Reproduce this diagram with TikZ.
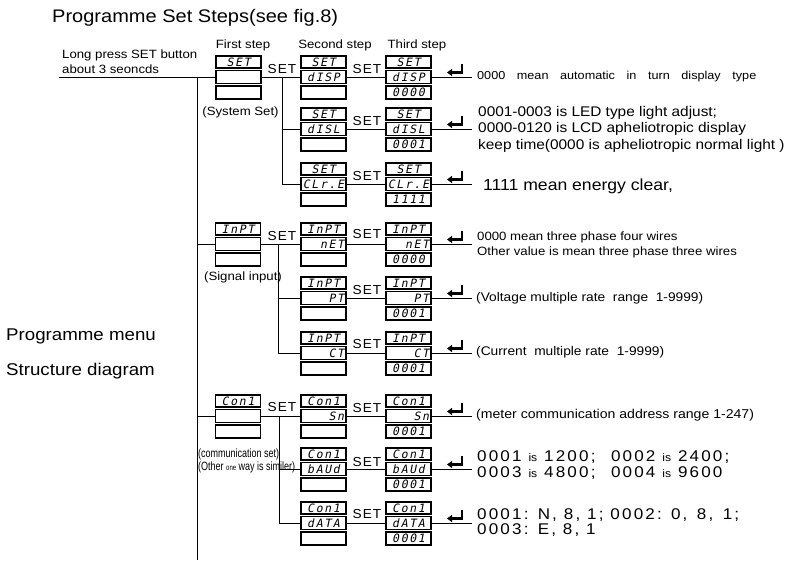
\documentclass[tikz,border=0pt]{standalone}
\usepackage{fontspec}
\setmainfont[FakeStretch=1.1]{Liberation Sans}
\newfontfamily\lcdfont[FakeSlant=0.2,LetterSpace=14]{DejaVu Sans Mono}
\newfontfamily\narrowfont[FakeStretch=0.75]{Liberation Sans}
\newfontfamily\widefont[FakeStretch=1.1,LetterSpace=14]{Liberation Sans}
\newfontfamily\spacedfont[FakeStretch=1.1,WordSpace=3.3]{Liberation Sans}
\newfontfamily\setfont[FakeStretch=1.05,LetterSpace=8]{Liberation Sans}
\usetikzlibrary{arrows.meta}
\newcommand\myfs[1]{\fontsize{#1}{#1}\selectfont}
\newcommand\lcdcol[6]{%
  \node[lcdtop] (#1t) at (#2,#3-15) {\makebox[41pt]{#4}};
  \node[lcdbox] (#1m) at (#2,#3) {\makebox[41pt]{#5}};
  \node[lcdbox] (#1b) at (#2,#3+15.5) {\makebox[41pt]{#6}};}
\newcommand\smallis{{\normalfont\fontsize{11}{11}\selectfont is}}
\begin{document}
\begin{tikzpicture}[x=1pt,y=-1pt,
  wire/.style={line width=0.9pt},
  lcdbox/.style={draw,line width=1.1pt,minimum width=45pt,minimum height=13pt,inner sep=0pt,font=\lcdfont\myfs{11.5}},
  lcdtop/.style={lcdbox,minimum height=12pt},
  setlbl/.style={inner sep=0pt,font=\setfont\myfs{13}},
  plain/.style={inner sep=0pt},
  note/.style={anchor=west,inner sep=0pt,align=left},
  enterarrow/.pic={\draw[line width=2.2pt,-{Triangle[length=5pt,width=7pt]}] (0,-13) -- (0,-4.5) -- (-15,-4.5);}
]
\useasboundingbox (0,0) rectangle (800,562);

% titles
\node[plain,anchor=base west,font=\myfs{18.2}] (title) at (52,23) {Programme Set Steps(see fig.8)};
\node[plain,anchor=base west,font=\myfs{12}] (lp1) at (62,58.5) {Long press SET button};
\node[plain,anchor=base west,font=\myfs{12}] (lp2) at (62,73) {about 3 seoncds};
\node[plain,anchor=base,font=\myfs{12}] (h1) at (243,48) {First step};
\node[plain,anchor=base,font=\myfs{12}] (h2) at (335,48) {Second step};
\node[plain,anchor=base,font=\myfs{12}] (h3) at (417,48) {Third step};
\node[plain,anchor=base west,font=\myfs{17}] (pm1) at (6,340) {Programme menu};
\node[plain,anchor=base west,font=\myfs{17}] (pm2) at (6,375) {Structure diagram};
\node[plain,font=\myfs{12}] (sys) at (240.5,112) {(System Set)};
\node[plain,font=\myfs{12}] (sig) at (243,277) {(Signal input)};
\node[plain,anchor=west,font=\narrowfont\myfs{12}] (com1) at (198,454) {(communication set)};
\node[plain,anchor=west,font=\narrowfont\myfs{12}] (com2) at (198,467) {(Other {\myfs{8}one} way is similer)};

% main line
\coordinate (start) at (59,77);
\coordinate (mtop) at (197,77);
\coordinate (mbot) at (197,560);

% ===== section 1 =====
\lcdcol{A1}{238.5}{77}{SET}{}{}
\lcdcol{A2}{323.5}{77}{SET}{dISP}{}
\lcdcol{A3}{408.5}{77}{SET}{dISP}{0000}
\lcdcol{B2}{323.5}{129}{SET}{dISL}{}
\lcdcol{B3}{408.5}{129}{SET}{dISL}{0001}
\lcdcol{C2}{323.5}{184}{SET}{CLr.E}{}
\lcdcol{C3}{408.5}{184}{SET}{CLr.E}{1111}
\node[setlbl] (sA1) at (282,69) {SET};
\node[setlbl] (sA2) at (367,69) {SET};
\node[setlbl] (sB2) at (367,121) {SET};
\node[setlbl] (sC2) at (367,176) {SET};
\coordinate (j1) at (282,77);
\coordinate (eA) at (472,77);
\coordinate (eB) at (472,129);
\coordinate (eC) at (472,184);

% ===== section 2 =====
\lcdcol{D1}{238}{244}{InPT}{}{}
\lcdcol{D2}{323.5}{244}{InPT}{\hfill nET}{}
\lcdcol{D3}{408.5}{244}{InPT}{\hfill nET}{0000}
\lcdcol{E2}{323.5}{298}{InPT}{\hfill PT}{}
\lcdcol{E3}{408.5}{298}{InPT}{\hfill PT}{0001}
\lcdcol{F2}{323.5}{353}{InPT}{\hfill CT}{}
\lcdcol{F3}{408.5}{353}{InPT}{\hfill CT}{0001}
\node[setlbl] (sD1) at (282,236) {SET};
\node[setlbl] (sD2) at (367,234) {SET};
\node[setlbl] (sE2) at (367,290) {SET};
\node[setlbl] (sF2) at (367,344) {SET};
\coordinate (j2) at (278,244);
\coordinate (eD) at (472,244);
\coordinate (eE) at (472,298);
\coordinate (eF) at (472,353);

% ===== section 3 =====
\lcdcol{G1}{238}{416}{Con1}{}{}
\lcdcol{G2}{323.5}{416}{Con1}{\hfill Sn}{}
\lcdcol{G3}{408.5}{416}{Con1}{\hfill Sn}{0001}
\lcdcol{H2}{323.5}{469}{Con1}{bAUd}{}
\lcdcol{H3}{408.5}{469}{Con1}{bAUd}{0001}
\lcdcol{I2}{323.5}{523}{Con1}{dATA}{}
\lcdcol{I3}{408.5}{523}{Con1}{dATA}{0001}
\node[setlbl] (sG1) at (282,407) {SET};
\node[setlbl] (sG2) at (367,408) {SET};
\node[setlbl] (sH2) at (367,462) {SET};
\node[setlbl] (sI2) at (367,514) {SET};
\coordinate (j3) at (279,416);
\coordinate (eG) at (472,416);
\coordinate (eH) at (472,469);
\coordinate (eI) at (472,523);

% connectors
\draw[wire] (start) -- (A1m.west);
\draw[wire] (mtop) -- (mbot);
\draw[wire] (mtop) |- (D1m.west);
\draw[wire] (mtop) |- (G1m.west);
\foreach \r in {A,D,G}{\draw[wire] (\r1m.east) -- (\r2m.west);}
\foreach \r in {A,B,C,D,E,F,G,H,I}{
  \draw[wire] (\r2m.east) -- (\r3m.west);
  \draw[wire] (\r3m.east) -- (e\r);}
\draw[wire] (j1) |- (B2m.west); \draw[wire] (j1) |- (C2m.west);
\draw[wire] (j2) |- (E2m.west); \draw[wire] (j2) |- (F2m.west);
\draw[wire] (j3) |- (H2m.west); \draw[wire] (j3) |- (I2m.west);

% enter arrows
\foreach \c in {77,129,184,244,298,353,416,469,523}{\pic at (462,\c) {enterarrow};}

% notes
\node[note,font=\spacedfont\myfs{11.5}] (tA) at (477,77) {0000 mean automatic in turn display type};
\node[note,font=\fontsize{14}{16.5}\selectfont] (tB) at (478,129) {0001-0003 is LED type light adjust;\\0000-0120 is LCD apheliotropic display\\keep time(0000 is apheliotropic normal light )};
\node[note,font=\myfs{16}] (tC) at (483,186) {1111 mean energy clear,};
\node[note,font=\fontsize{12}{15}\selectfont] (tD) at (477,244.5) {0000 mean three phase four wires\\Other value is mean three phase three wires};
\node[note,font=\myfs{12.5}] (tE) at (476,298) {(Voltage multiple rate~ range~ 1-9999)};
\node[note,font=\myfs{12.5}] (tF) at (476,352) {(Current~ multiple rate~ 1-9999)};
\node[note,font=\myfs{12.8}] (tG) at (476,415) {(meter communication address range 1-247)};
\node[note,font=\widefont\fontsize{15.5}{16}\selectfont] (tH) at (477,465) {0001 \smallis\ 1200;\quad 0002 \smallis\ 2400;\\0003 \smallis\ 4800;\quad 0004 \smallis\ 9600};
\node[note,font=\widefont\fontsize{15.5}{15}\selectfont] (tI) at (477,522.5) {0001: N, 8, 1; 0002: 0,\, 8,\, 1;\\0003: E, 8, 1};
\end{tikzpicture}
\end{document}
